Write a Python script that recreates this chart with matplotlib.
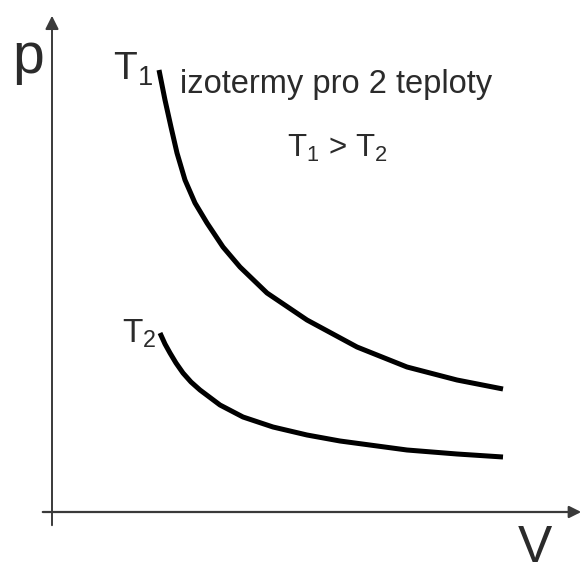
import matplotlib
matplotlib.use("Agg")
import matplotlib.pyplot as plt

plt.rcParams['font.family'] = ['Liberation Sans', 'DejaVu Sans']
plt.rcParams['mathtext.fontset'] = 'custom'
plt.rcParams['mathtext.rm'] = 'Liberation Sans'
plt.rcParams['mathtext.it'] = 'Liberation Sans'
plt.rcParams['mathtext.default'] = 'rm'

# isotherm T1 (higher temperature)
v_t1 = [107, 113, 119, 125, 133, 143, 155, 171, 188, 215, 255, 305, 355, 405, 451]
p_t1 = [442, 412, 385, 359, 332, 309, 289, 265, 245, 219, 192, 165, 145, 132, 123]

# isotherm T2 (lower temperature)
v_t2 = [108, 113, 118, 124, 131, 139, 148, 168, 191, 221, 255, 288, 355, 405, 451]
p_t2 = [179, 168, 159, 149, 139, 130, 122, 107, 95, 85, 77, 71, 62, 58, 55]

labels = ['T$_1$', 'T$_2$']
title = 'izotermy pro 2 teploty'
relation = 'T$_1$ > T$_2$'

fig = plt.figure(figsize=(5.84, 5.73), dpi=100)
ax = fig.add_axes([0, 0, 1, 1])
ax.set_xlim(-52, 532)
ax.set_ylim(-61, 512)
ax.axis('off')

axis_col = '#3a3a3a'
ax.annotate('', xy=(532, 0), xytext=(-12, 0),
            arrowprops=dict(arrowstyle='-|>', color=axis_col, lw=1.6, mutation_scale=18))
ax.annotate('', xy=(0, 499), xytext=(0, -16),
            arrowprops=dict(arrowstyle='-|>', color=axis_col, lw=1.4, mutation_scale=20))

ax.plot(v_t1, p_t1, color='black', lw=3.6, solid_capstyle='butt', solid_joinstyle='round')
ax.plot(v_t2, p_t2, color='black', lw=3.6, solid_capstyle='butt', solid_joinstyle='round')

txt = '#2b2b2b'
ax.text(-40, 439, 'p', fontsize=41, color=txt, va='baseline')
# V sits at the very bottom edge, kept just inside the figure
ax.text(466, -50, 'V', fontsize=37, color=txt, va='baseline')
ax.text(61, 432, labels[0], fontsize=28, color=txt, va='baseline')
ax.text(70, 169, labels[1], fontsize=24, color=txt, va='baseline')
ax.text(128, 419, title, fontsize=23.5, color=txt, va='baseline')
ax.text(235, 355, relation, fontsize=22.5, color=txt, va='baseline')

fig.savefig('out.png', dpi=100)
